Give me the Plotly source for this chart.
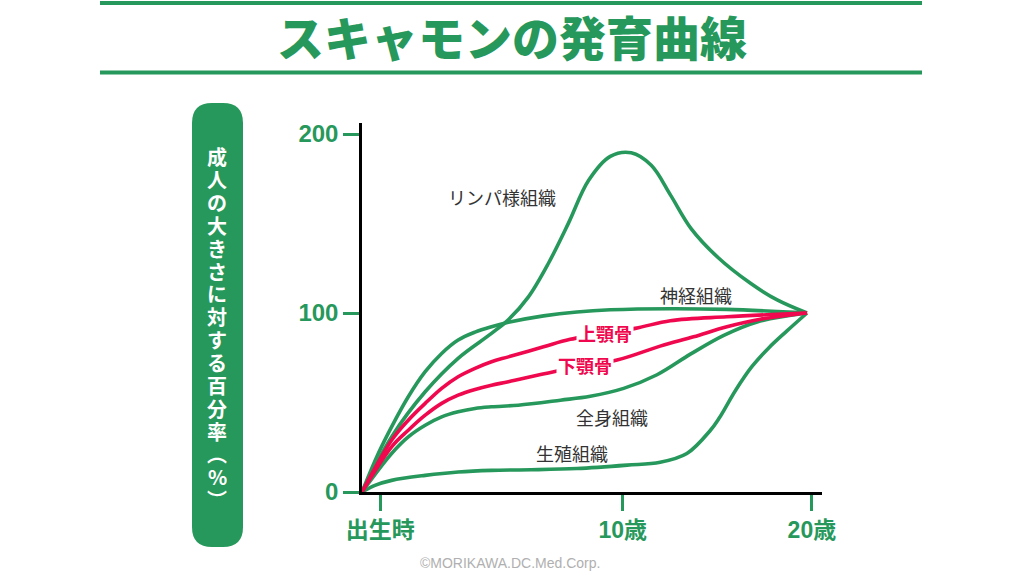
import plotly.graph_objects as go

# ---------------- data ----------------
GREEN = "#27985b"
RED = "#f0084e"
GRAY = "#333333"

x_neural = [0, 3.66, 6.65, 10.4, 14.2, 17.9, 21.6, 25.4, 29.1, 32.9, 40.8, 48.3, 55.8, 69.3, 82.0, 100]
y_neural = [0, 21.5, 36.4, 53.2, 67.2, 77.4, 84.9, 89.3, 92.3, 94.8, 98.4, 100.6, 101.8, 102.4, 102.0, 100]

x_lymph = [0, 6.65, 14.2, 21.6, 29.1, 33.0, 37.4, 41.9, 46.4, 50.9, 55.8, 60.5, 65.0, 69.3, 74.0, 80.0,
           87.3, 93.3, 100]
y_lymph = [0, 30.8, 56.0, 74.7, 88.6, 96.5, 109.0, 127.8, 150.2, 174.0, 187.5, 189.5, 182.5, 166.0, 147.0, 131.0,
           116.6, 107.3, 100]

x_maxilla = [0, 6.65, 10.4, 14.2, 17.9, 21.6, 25.4, 29.1, 32.9, 40.8, 46.8, 61.4, 69.3, 82.0, 100]
y_maxilla = [0, 28.9, 40.1, 49.5, 57.9, 64.4, 69.1, 72.8, 75.5, 81.1, 85.3, 91.4, 95.7, 97.9, 100]

x_mandible = [0, 6.65, 10.4, 14.2, 17.9, 21.6, 25.4, 29.1, 32.9, 43.1, 57.3, 67.0, 74.5, 82.0, 89.5, 100]
y_mandible = [0, 25.2, 34.5, 42.9, 49.5, 54.1, 57.3, 59.7, 61.6, 67.2, 73.7, 81.5, 86.7, 92.3, 96.5, 100]

x_general = [0, 6.65, 10.4, 14.2, 17.9, 21.6, 25.4, 29.1, 35.1, 44.6, 51.3, 58.8, 66.3, 73.8, 81.3, 88.8, 100]
y_general = [0, 21.5, 30.8, 37.3, 42.0, 44.8, 46.7, 47.6, 48.5, 51.3, 53.5, 57.9, 65.5, 77.0, 87.5, 95.0, 100]

x_genital = [0, 2.9, 6.65, 14.2, 21.6, 29.1, 38.0, 48.3, 59.6, 67.0, 73.0, 78.3, 80.2, 84.0, 87.6, 91.4, 95.5, 100]
y_genital = [0, 3.7, 6.5, 9.3, 11.2, 12.1, 12.4, 13.1, 15.0, 16.6, 21.5, 34.5, 41.0, 57.0, 70.0, 80.5, 90.0, 100]

x_tick_vals = [4.1, 58.6, 101.1]
x_tick_text = ["出生時", "10歳", "20歳"]
y_tick_vals = [0, 100, 200]

title_text = "スキャモンの発育曲線"
y_label_chars = list("成人の大きさに対する百分率") + ["︵", "%", "︶"]
credit_text = "©MORIKAWA.DC.Med.Corp."

series = [
    ("リンパ様組織", x_lymph, y_lymph, GREEN),
    ("神経組織", x_neural, y_neural, GREEN),
    ("全身組織", x_general, y_general, GREEN),
    ("生殖組織", x_genital, y_genital, GREEN),
    ("下顎骨", x_mandible, y_mandible, RED),
    ("上顎骨", x_maxilla, y_maxilla, RED),
]

# label positions (data coords)
labels = [
    ("リンパ様組織", 31.5, 164.9, GRAY, 400),
    ("神経組織", 75.1, 110.1, GRAY, 400),
    ("全身組織", 56.2, 41.8, GRAY, 400),
    ("生殖組織", 47.2, 21.7, GRAY, 400),
    ("上顎骨", 54.5, 88.8, RED, 700),
    ("下顎骨", 50.2, 70.9, RED, 700),
]

# ---------------- layout geometry ----------------
W, H = 1024, 585
L, R, T, B = 362, 202, 123, 93
PW, PH = W - L - R, H - T - B


def px(xpix):
    return (xpix - L) / PW


def py(ypix):
    return (H - B - ypix) / PH


JP = "Noto Sans CJK JP"
LAT = "Liberation Sans, Arial, Noto Sans CJK JP"

fig = go.Figure()
for name, xs, ys, col in series:
    fig.add_trace(go.Scatter(x=xs, y=ys, mode="lines", name=name,
                             line=dict(color=col, width=3.6, shape="spline", smoothing=1.0),
                             hoverinfo="skip"))

for text, lx, ly, col, wt in labels:
    fig.add_annotation(x=lx, y=ly, xref="x", yref="y", text=text, showarrow=False,
                       font=dict(family=JP, size=18, color=col, weight=wt),
                       bgcolor="white" if col == RED else "rgba(0,0,0,0)", borderpad=1)

# title
fig.add_annotation(x=px(512), y=py(36), xref="paper", yref="paper", text=title_text,
                   showarrow=False, xanchor="center", yanchor="middle",
                   font=dict(family=JP, size=47, color=GREEN, weight=900))
for yline in (3, 72.5):
    fig.add_shape(type="line", xref="paper", yref="paper",
                  x0=px(100), x1=px(922), y0=py(yline), y1=py(yline),
                  line=dict(color=GREEN, width=4))

# left rounded box
bx0, bx1, by0, by1, rr = 192, 243, 103, 547, 20
path = (f"M {px(bx0 + rr)} {py(by0)} L {px(bx1 - rr)} {py(by0)} "
        f"Q {px(bx1)} {py(by0)} {px(bx1)} {py(by0 + rr)} "
        f"L {px(bx1)} {py(by1 - rr)} Q {px(bx1)} {py(by1)} {px(bx1 - rr)} {py(by1)} "
        f"L {px(bx0 + rr)} {py(by1)} Q {px(bx0)} {py(by1)} {px(bx0)} {py(by1 - rr)} "
        f"L {px(bx0)} {py(by0 + rr)} Q {px(bx0)} {py(by0)} {px(bx0 + rr)} {py(by0)} Z")
fig.add_shape(type="path", xref="paper", yref="paper", path=path,
              fillcolor=GREEN, line=dict(width=0), layer="below")

step = 22.86
for i, ch in enumerate(y_label_chars):
    fig.add_annotation(x=px(217), y=py(156.7 + i * step), xref="paper", yref="paper",
                       text=ch, showarrow=False, xanchor="center", yanchor="middle",
                       height=int(step) - 1, borderpad=0,
                       font=dict(family=JP, size=20, color="white", weight=700))

# credit
fig.add_annotation(x=px(510), y=py(563), xref="paper", yref="paper", text=credit_text,
                   showarrow=False, xanchor="center", yanchor="middle",
                   font=dict(family=LAT, size=14, color="#b0b0b0"))

fig.update_layout(
    width=W, height=H, margin=dict(l=L, r=R, t=T, b=B),
    paper_bgcolor="white", plot_bgcolor="white", showlegend=False,
    xaxis=dict(range=[0, PW / 4.45], showgrid=False, zeroline=False,
               showline=True, linecolor="black", linewidth=2.5,
               tickmode="array", tickvals=x_tick_vals, ticktext=x_tick_text,
               ticks="outside", ticklen=16, tickwidth=2.5, tickcolor=GREEN,
               tickfont=dict(family=LAT, size=23, color=GREEN, weight=700),
               fixedrange=True),
    yaxis=dict(range=[0, PH / 1.79], showgrid=False, zeroline=False,
               showline=True, linecolor="black", linewidth=2.5,
               tickmode="array", tickvals=y_tick_vals,
               ticks="outside", ticklen=16, tickwidth=2.5, tickcolor=GREEN,
               tickfont=dict(family=LAT, size=24, color=GREEN, weight=700),
               fixedrange=True),
)

fig.write_html("out.html")
